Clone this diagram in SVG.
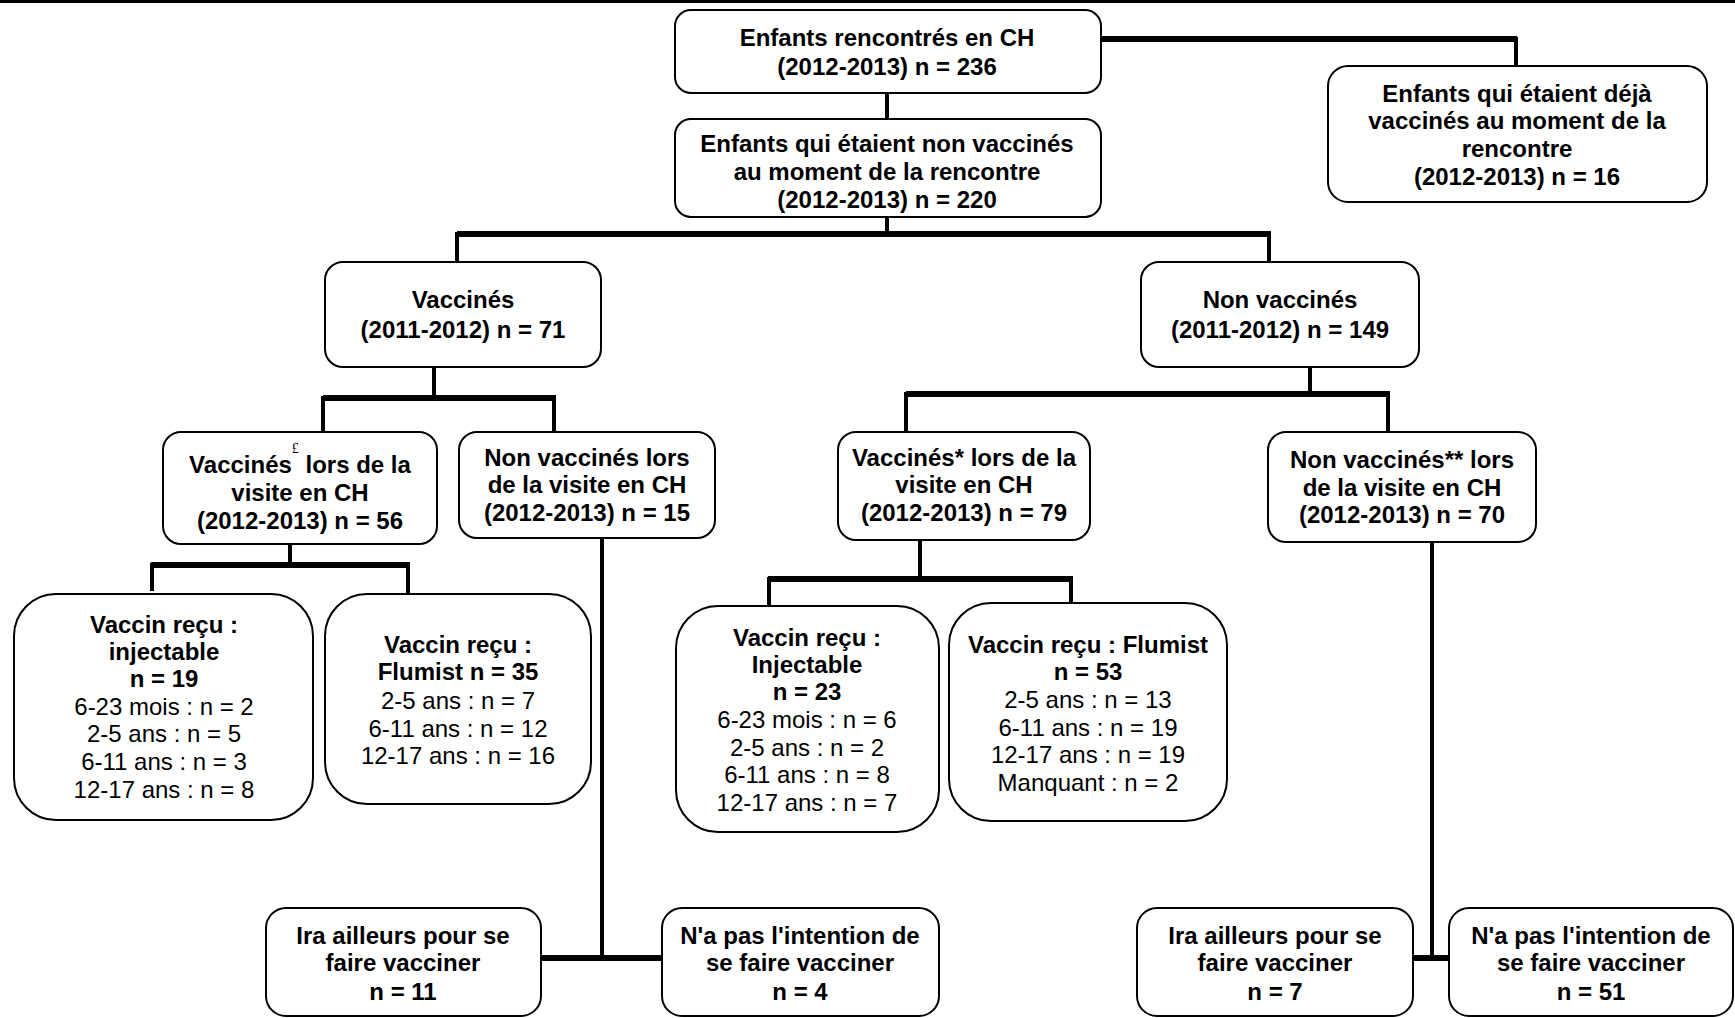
<svg xmlns="http://www.w3.org/2000/svg" width="1735" height="1018" viewBox="0 0 1735 1018">
<style>
.box{fill:#fff;stroke:#000;stroke-width:2}
text{font-family:"Liberation Sans",Arial,sans-serif;font-size:24px;text-anchor:middle;fill:#000}
.b{font-weight:bold}
.h{stroke:#000;stroke-width:6;fill:none}
.v{stroke:#000;stroke-width:4;fill:none}
.sup{font-family:"Liberation Serif","Times New Roman",serif;font-size:14px;font-weight:normal}
</style>
<rect x="0" y="0" width="1735" height="3" fill="#000"/>
<g id="connectors">
<path class="h" d="M1101,39 H1517"/>
<path class="v" d="M1516,37 V66"/>
<path class="v" d="M887,93 V119"/>
<path class="v" d="M887,217 V234"/>
<path class="h" d="M457,234 H1271"/>
<path class="v" d="M457,232 V262"/>
<path class="v" d="M1269,232 V262"/>
<path class="v" d="M434,367 V398"/>
<path class="h" d="M323,398 H556"/>
<path class="v" d="M323,396 V432"/>
<path class="v" d="M554,396 V432"/>
<path class="v" d="M1310,367 V394"/>
<path class="h" d="M906,394 H1390"/>
<path class="v" d="M906,392 V432"/>
<path class="v" d="M1388,392 V432"/>
<path class="v" d="M290,544 V565"/>
<path class="h" d="M151,565 H410"/>
<path class="v" d="M152,563 V591"/>
<path class="v" d="M408,563 V594"/>
<path class="v" d="M602,536 V958"/>
<path class="h" d="M541,958 H662"/>
<path class="v" d="M920,540 V579"/>
<path class="h" d="M768,579 H1073"/>
<path class="v" d="M769,577 V606"/>
<path class="v" d="M1071,577 V603"/>
<path class="v" d="M1432,542 V958"/>
<path class="h" d="M1413,958 H1449"/>
</g>
<g id="n1"><rect class="box" x="675" y="10" width="426" height="83" rx="16"/>
<text class="b" x="887" y="46">Enfants rencontrés en CH</text>
<text class="b" x="887" y="75">(2012-2013) n = 236</text></g>
<g id="n2"><rect class="box" x="1328" y="66" width="379" height="136" rx="20"/>
<text class="b" x="1517" y="101.5">Enfants qui étaient déjà</text>
<text class="b" x="1517" y="129">vaccinés au moment de la</text>
<text class="b" x="1517" y="157">rencontre</text>
<text class="b" x="1517" y="184.5">(2012-2013) n = 16</text></g>
<g id="n3"><rect class="box" x="675" y="119" width="426" height="98" rx="16"/>
<text class="b" x="887" y="152">Enfants qui étaient non vaccinés</text>
<text class="b" x="887" y="180">au moment de la rencontre</text>
<text class="b" x="887" y="208">(2012-2013) n = 220</text></g>
<g id="n4"><rect class="box" x="325" y="262" width="276" height="105" rx="18"/>
<text class="b" x="463" y="308">Vaccinés</text>
<text class="b" x="463" y="338">(2011-2012) n = 71</text></g>
<g id="n5"><rect class="box" x="1141" y="262" width="278" height="105" rx="18"/>
<text class="b" x="1280" y="308">Non vaccinés</text>
<text class="b" x="1280" y="338">(2011-2012) n = 149</text></g>
<g id="n6"><rect class="box" x="163" y="432" width="274" height="112" rx="18"/>
<text class="b" x="300" y="473">Vaccinés<tspan class="sup" dy="-20">£</tspan><tspan dy="20"> lors de la</tspan></text>
<text class="b" x="300" y="501">visite en CH</text>
<text class="b" x="300" y="529">(2012-2013) n = 56</text></g>
<g id="n7"><rect class="box" x="459" y="432" width="256" height="106" rx="18"/>
<text class="b" x="587" y="465.5">Non vaccinés lors</text>
<text class="b" x="587" y="493">de la visite en CH</text>
<text class="b" x="587" y="520.5">(2012-2013) n = 15</text></g>
<g id="n8"><rect class="box" x="838" y="432" width="252" height="108" rx="18"/>
<text class="b" x="964" y="465.5">Vaccinés* lors de la</text>
<text class="b" x="964" y="493">visite en CH</text>
<text class="b" x="964" y="520.5">(2012-2013) n = 79</text></g>
<g id="n9"><rect class="box" x="1268" y="432" width="268" height="110" rx="18"/>
<text class="b" x="1402" y="467.5">Non vaccinés** lors</text>
<text class="b" x="1402" y="495.5">de la visite en CH</text>
<text class="b" x="1402" y="523">(2012-2013) n = 70</text></g>
<g id="n10"><rect class="box" x="14" y="594" width="299" height="226" rx="42"/>
<text class="b" x="164" y="632.5">Vaccin reçu :</text>
<text class="b" x="164" y="660">injectable</text>
<text class="b" x="164" y="687">n = 19</text>
<text x="164" y="714.5">6-23 mois : n = 2</text>
<text x="164" y="742">2-5 ans : n = 5</text>
<text x="164" y="770">6-11 ans : n = 3</text>
<text x="164" y="797.5">12-17 ans : n = 8</text></g>
<g id="n11"><rect class="box" x="325" y="594" width="266" height="210" rx="42"/>
<text class="b" x="458" y="652.5">Vaccin reçu :</text>
<text class="b" x="458" y="680">Flumist n = 35</text>
<text x="458" y="709">2-5 ans : n = 7</text>
<text x="458" y="736.5">6-11 ans : n = 12</text>
<text x="458" y="764">12-17 ans : n = 16</text></g>
<g id="n12"><rect class="box" x="676" y="606" width="263" height="226" rx="42"/>
<text class="b" x="807" y="646">Vaccin reçu :</text>
<text class="b" x="807" y="672.5">Injectable</text>
<text class="b" x="807" y="700">n = 23</text>
<text x="807" y="727.5">6-23 mois : n = 6</text>
<text x="807" y="755.5">2-5 ans : n = 2</text>
<text x="807" y="783">6-11 ans : n = 8</text>
<text x="807" y="810.5">12-17 ans : n = 7</text></g>
<g id="n13"><rect class="box" x="949" y="603" width="278" height="218" rx="42"/>
<text class="b" x="1088" y="652.5">Vaccin reçu : Flumist</text>
<text class="b" x="1088" y="680">n = 53</text>
<text x="1088" y="708">2-5 ans : n = 13</text>
<text x="1088" y="735.5">6-11 ans : n = 19</text>
<text x="1088" y="763">12-17 ans : n = 19</text>
<text x="1088" y="791">Manquant : n = 2</text></g>
<g id="n14"><rect class="box" x="266" y="908" width="275" height="108" rx="20"/>
<text class="b" x="403" y="943.5">Ira ailleurs pour se</text>
<text class="b" x="403" y="971">faire vacciner</text>
<text class="b" x="403" y="1000">n = 11</text></g>
<g id="n15"><rect class="box" x="662" y="908" width="277" height="108" rx="20"/>
<text class="b" x="800" y="943.5">N'a pas l'intention de</text>
<text class="b" x="800" y="971">se faire vacciner</text>
<text class="b" x="800" y="1000">n = 4</text></g>
<g id="n16"><rect class="box" x="1137" y="908" width="276" height="108" rx="20"/>
<text class="b" x="1275" y="943.5">Ira ailleurs pour se</text>
<text class="b" x="1275" y="971">faire vacciner</text>
<text class="b" x="1275" y="1000">n = 7</text></g>
<g id="n17"><rect class="box" x="1449" y="908" width="284" height="108" rx="20"/>
<text class="b" x="1591" y="943.5">N'a pas l'intention de</text>
<text class="b" x="1591" y="971">se faire vacciner</text>
<text class="b" x="1591" y="1000">n = 51</text></g>
</svg>
